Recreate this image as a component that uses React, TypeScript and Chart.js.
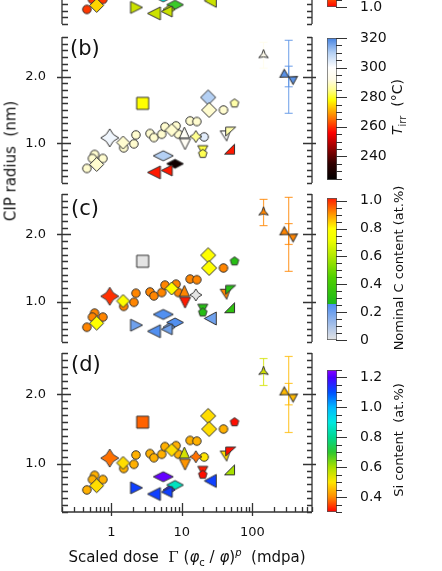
import React, { useEffect, useRef } from 'react';
import { Chart, registerables } from 'chart.js';

Chart.register(...registerables);

const FONT = "'DejaVu Sans', 'Liberation Sans', sans-serif";
Chart.defaults.font.family = FONT;

// ---------------- data: one entry per plotted sample ----------------
const markerShape = [
  'circle', 'circle', 'circle', 'circle', 'diamond', 'star4', 'circle',
  'diamond', 'circle', 'circle', 'square', 'circle', 'circle', 'circle',
  'circle', 'circle', 'circle', 'diamond', 'triUp', 'circle', 'circle',
  'triDown', 'circle', 'star4', 'triDown', 'pentagon', 'diamond', 'diamond',
  'circle', 'pentagon', 'flagA', 'flagB', 'rtri', 'star3', 'bowtie',
  'flatDiamond', 'flatDiamond', 'triLeft', 'flatDiamond', 'triLeft', 'triRight', 'triLeft',
];
const markerWidth = [
  8.5, 8.5, 8.5, 8.5, 14, 18, 8.5,
  13, 8.5, 8.5, 12, 8.5, 8.5, 8.5,
  8.5, 8.5, 8.5, 13, 10, 8.5, 8.5,
  11, 8.5, 12, 10, 9, 15, 15,
  8.5, 9, 10, 10, 10, 11, 15,
  20, 17, 13, 12, 11, 12, 12,
];
const markerHeight = [
  8.5, 8.5, 8.5, 8.5, 14, 18, 8.5,
  13, 8.5, 8.5, 12, 8.5, 8.5, 8.5,
  8.5, 8.5, 8.5, 13, 11, 8.5, 8.5,
  11, 8.5, 12, 9, 9, 15, 15,
  8.5, 9, 10, 9, 10, 11, 15,
  10, 9, 13, 8, 11, 12, 13,
];
// scaled dose (mdpa)
const scaledDose = [
  0.45, 0.58, 0.54, 0.76, 0.62, 0.95, 1.50,
  1.47, 2.09, 2.23, 2.78, 3.53, 4.02, 5.18,
  5.77, 8.27, 8.92, 7.18, 10.85, 13.1, 16.3,
  11.1, 20.7, 15.8, 19.8, 19.8, 23.6, 24.4,
  38.9, 55.8, 41.1, 49.2, 47.4, 144, 327,
  5.46, 8.0, 4.02, 6.6, 6.1, 2.28, 25.3,
];
// CIP radius (nm)
const cipRadius = [
  0.62, 0.83, 0.77, 0.77, 0.68, 1.08, 0.93,
  1.01, 0.99, 1.125, 1.60, 1.145, 1.085, 1.135,
  1.246, 1.26, 1.136, 1.196, 1.16, 1.336, 1.326,
  0.985, 1.095, 1.10, 0.895, 0.84, 1.69, 1.50,
  1.50, 1.60, 1.11, 1.175, 0.91, 2.33, 2.0,
  0.81, 0.69, 0.56, 0.62, 0.59, 0.65, 0.75,
];
// irradiation temperature (°C), panel (b)
const irradiationTemp = [
  290, 290, 290, 290, 290, 302, 290,
  290, 290, 290, 278, 290, 290, 290,
  290, 290, 290, 290, 297, 290, 290,
  296, 304, 285, 281, 282, 310, 290,
  290, 287, 299, 287, 258, 293, 318,
  310, 228, 258, null, 258, null, null,
];
// nominal C content (at.%), panel (c)
const carbonContent = [
  0.92, 0.92, 0.92, 0.92, 0.8, 1.0, 0.92,
  0.8, 0.92, 0.92, 0, 0.92, 0.92, 0.92,
  0.92, 0.92, 0.92, 0.8, 0.92, 0.92, 0.92,
  1.02, null, 0, 0.3, 0.3, 0.8, 0.8,
  0.92, 0.3, 0.92, 0.3, 0.33, 0.92, 0.92,
  0.25, 0.25, 0.25, 0.2, 0.2, 0.2, 0.2,
];
// Si content (at.%), panel (d)
const siliconContent = [
  0.44, 0.44, 0.44, 0.44, 0.49, 0.38, 0.44,
  0.49, 0.44, 0.44, 0.37, 0.44, 0.44, 0.44,
  0.44, 0.44, 0.44, 0.49, 0.55, 0.44, 0.44,
  0.41, 0.5, 0.38, 0.32, 0.31, 0.49, 0.49,
  0.44, 0.31, 0.49, 0.31, 0.6, 0.55, 0.45,
  1.22, 0.86, 1.12, 1.15, 1.12, 1.12, 1.12,
];
// colour variable of panel (a) (its scale is cut off at the top of the figure)
const panelAValue = [
  1.04, 1.04, 1.04, 1.04, 1.18, 1.1, 1.04,
  1.18, 1.04, 1.04, 1.1, 1.04, 1.04, 1.04,
  1.04, 1.04, 1.04, 1.18, 1.25, 1.04, 1.04,
  1.1, 1.04, 1.1, 1.3, 1.3, 1.18, 1.18,
  1.04, 1.3, 1.2, 1.3, 1.3, 1.25, 1.2,
  1.6, 1.39, 1.26, 1.27, 1.26, 1.26, 1.26,
];

// error bars: sample index, lower and upper radius
const errorSample = [33, 34, 34];
const errorLow = [2.13, 1.45, 1.85];
const errorHigh = [2.52, 2.55, 2.16];

// axis ticks
const xTickValues = [1, 10, 100];
const yTickValues = [1.0, 2.0];
const tempTicks = [240, 260, 280, 300, 320];
const carbonTicks = [0, 0.2, 0.4, 0.6, 0.8, 1.0];
const siliconTicks = [0.4, 0.6, 0.8, 1.0, 1.2];
const panelATicks = [1.0, 1.2, 1.4, 1.6, 1.8, 2.0];

// colour scales
const tempStops: [number, string][] = [
  [224, '#000000'], [235, '#300000'], [245, '#900000'], [256, '#ff0000'], [264, '#ff6000'],
  [271, '#ffb000'], [278, '#ffff00'], [285, '#ffff90'], [292, '#fffbe8'], [300, '#ffffff'],
  [310, '#b4d0f4'], [320, '#4482e2'],
];
const carbonStops: [number, string][] = [
  [0, '#e4e4e4'], [0.255, '#4f8ef0'], [0.2551, '#1ab81a'], [0.45, '#50d000'], [0.6, '#b0e800'],
  [0.72, '#f0ff00'], [0.8, '#ffff00'], [0.9, '#ff9a00'], [1.02, '#ff1a00'],
];
const siliconStops: [number, string][] = [
  [0.3, '#ff0000'], [0.4, '#ff8c00'], [0.5, '#ffe600'], [0.6, '#a8e000'], [0.7, '#2ec82e'],
  [0.8, '#00d890'], [0.9, '#00e8e0'], [1.0, '#00b8ff'], [1.1, '#0050ff'], [1.2, '#4a00ff'], [1.25, '#8a00ff'],
];
const panelAStops: [number, string][] = [
  [1.0, '#ff0000'], [1.1, '#ff8c00'], [1.2, '#ffe600'], [1.3, '#a8e000'], [1.4, '#2ec82e'],
  [1.5, '#00d890'], [1.6, '#00e8e0'], [1.7, '#00b8ff'], [1.8, '#0050ff'], [1.9, '#4a00ff'], [2.0, '#8a00ff'],
];

// ---------------- helpers ----------------
function hexRgb(h: string): number[] {
  return [parseInt(h.slice(1, 3), 16), parseInt(h.slice(3, 5), 16), parseInt(h.slice(5, 7), 16)];
}
function colorAt(stops: [number, string][], v: number): number[] {
  if (v <= stops[0][0]) return hexRgb(stops[0][1]);
  for (let i = 1; i < stops.length; i++) {
    if (v <= stops[i][0]) {
      const [v0, c0] = stops[i - 1];
      const [v1, c1] = stops[i];
      const t = v1 === v0 ? 1 : (v - v0) / (v1 - v0);
      const a = hexRgb(c0), b = hexRgb(c1);
      return a.map((x, k) => Math.round(x + (b[k] - x) * t));
    }
  }
  return hexRgb(stops[stops.length - 1][1]);
}
const rgb = (c: number[], a = 1) => `rgba(${c[0]},${c[1]},${c[2]},${a})`;

function makeMarker(shape: string, w: number, h: number, fill: string): HTMLCanvasElement {
  const size = Math.ceil(Math.max(w, h) * 1.3 + 4);
  const c = document.createElement('canvas');
  c.width = size;
  c.height = size;
  const ctx = c.getContext('2d') as CanvasRenderingContext2D;
  ctx.translate(size / 2, size / 2);
  const a = w / 2, b = h / 2;
  const poly = (pts: number[][]) => {
    ctx.moveTo(pts[0][0], pts[0][1]);
    for (let i = 1; i < pts.length; i++) ctx.lineTo(pts[i][0], pts[i][1]);
    ctx.closePath();
  };
  ctx.beginPath();
  switch (shape) {
    case 'circle': ctx.arc(0, 0, a, 0, Math.PI * 2); break;
    case 'square': poly([[-a, -b], [a, -b], [a, b], [-a, b]]); break;
    case 'diamond':
    case 'flatDiamond': poly([[0, -b], [a, 0], [0, b], [-a, 0]]); break;
    case 'triUp': poly([[0, -b], [a, b], [-a, b]]); break;
    case 'triDown': poly([[-a, -b], [a, -b], [0, b]]); break;
    case 'triLeft': poly([[-a, 0], [a, -b], [a, b]]); break;
    case 'triRight': poly([[a, 0], [-a, -b], [-a, b]]); break;
    case 'rtri': poly([[a, -b], [a, b], [-a, b]]); break;
    case 'flagA': poly([[-a, -b], [a, -b], [a * 0.3, b]]); break;
    case 'flagB': poly([[-a, -b], [a, -b], [-a, b]]); break;
    case 'pentagon': {
      const pts: number[][] = [];
      for (let k = 0; k < 5; k++) {
        const t = -Math.PI / 2 + (k * 2 * Math.PI) / 5;
        pts.push([a * Math.cos(t), b * Math.sin(t)]);
      }
      poly(pts);
      break;
    }
    case 'star4': {
      const tips = [[0, -b], [a, 0], [0, b], [-a, 0]];
      const k = 0.28;
      const ctrl = [[k * a, -k * b], [k * a, k * b], [-k * a, k * b], [-k * a, -k * b]];
      ctx.moveTo(tips[0][0], tips[0][1]);
      for (let i = 0; i < 4; i++) {
        const n = tips[(i + 1) % 4];
        ctx.quadraticCurveTo(ctrl[i][0], ctrl[i][1], n[0], n[1]);
      }
      ctx.closePath();
      break;
    }
    case 'star3': {
      const ang = [-90, 30, 150].map((d) => (d * Math.PI) / 180);
      ctx.moveTo(a * Math.cos(ang[0]), b * Math.sin(ang[0]));
      for (let i = 0; i < 3; i++) {
        const n = ang[(i + 1) % 3];
        const m = ang[i] + Math.PI / 3;
        ctx.quadraticCurveTo(0.2 * a * Math.cos(m), 0.2 * b * Math.sin(m), a * Math.cos(n), b * Math.sin(n));
      }
      ctx.closePath();
      break;
    }
    case 'bowtie': {
      ctx.rotate(0.5);
      poly([[0, 0], [-a, -b * 0.6], [-a, b * 0.6]]);
      poly([[0, 0], [a, -b * 0.6], [a, b * 0.6]]);
      break;
    }
    default: ctx.arc(0, 0, a, 0, Math.PI * 2);
  }
  ctx.fillStyle = fill;
  ctx.fill();
  ctx.lineWidth = 1;
  ctx.lineJoin = 'miter';
  ctx.strokeStyle = '#333333';
  ctx.stroke();
  return c;
}

// inward tick marks and side axes of a panel
const frameTicksPlugin = {
  id: 'frameTicks',
  afterDraw(chart: any, _args: any, opts: any) {
    const { ctx, chartArea } = chart;
    const { left, right, top, bottom } = chartArea;
    const xs = chart.scales.x, ys = chart.scales.y;
    ctx.save();
    ctx.strokeStyle = '#333333';
    ctx.lineWidth = 1.3;
    const L = Math.round(left), R = Math.round(right);
    ctx.beginPath();
    ctx.moveTo(L, top); ctx.lineTo(L, bottom);
    ctx.moveTo(R, top); ctx.lineTo(R, bottom);
    const k0 = Math.ceil(ys.min * 10 - 1e-6), k1 = Math.floor(ys.max * 10 + 1e-6);
    for (let k = k0; k <= k1; k++) {
      const py = Math.round(ys.getPixelForValue(k / 10)) + 0.5;
      if (k % 10 === 0) {
        ctx.moveTo(L - 5, py); ctx.lineTo(L + 9, py);
        ctx.moveTo(R + 4, py); ctx.lineTo(R - 9, py);
      } else {
        ctx.moveTo(L, py); ctx.lineTo(L + 6, py);
        ctx.moveTo(R, py); ctx.lineTo(R - 5, py);
      }
    }
    if (opts && opts.bottomAxis) {
      const B = Math.round(bottom);
      ctx.moveTo(L, B); ctx.lineTo(R, B);
      for (const d of [0.1, 1, 10, 100]) {
        for (let m = 1; m <= 9; m++) {
          const v = m * d;
          if (v < xs.min * 0.999 || v > xs.max * 1.001) continue;
          const px = Math.round(xs.getPixelForValue(v)) + 0.5;
          if (m === 1) { ctx.moveTo(px, B + 4); ctx.lineTo(px, B - 9); }
          else { ctx.moveTo(px, B); ctx.lineTo(px, B - 5); }
        }
      }
    }
    ctx.stroke();
    ctx.restore();
  },
};

// tick marks on the right of a colour bar
const cbTicksPlugin = {
  id: 'cbTicks',
  afterDraw(chart: any, _args: any, opts: any) {
    const { ctx, chartArea } = chart;
    const ys = chart.scales.y;
    const right = Math.round(chartArea.right);
    ctx.save();
    ctx.strokeStyle = '#333333';
    ctx.lineWidth = 1.2;
    ctx.beginPath();
    const n0 = Math.ceil(ys.min / opts.step - 1e-6), n1 = Math.floor(ys.max / opts.step + 1e-6);
    for (let n = n0; n <= n1; n++) {
      const v = n * opts.step;
      const py = Math.round(ys.getPixelForValue(v)) + 0.5;
      const major = opts.major.some((m: number) => Math.abs(m - v) < 1e-6);
      ctx.moveTo(right - 1, py);
      ctx.lineTo(right + (major ? 10 : 5), py);
    }
    ctx.stroke();
    ctx.restore();
  },
};

// ---------------- layout of the figure ----------------
const PAD = 20;
const CB_PAD = 28;
const PANELS = [
  { areaTop: -122, areaBottom: 24, yMin: 0.4, yMax: 2.6, showX: false, values: panelAValue, stops: panelAStops },
  { areaTop: 37, areaBottom: 183, yMin: 0.4, yMax: 2.6, showX: false, values: irradiationTemp, stops: tempStops },
  { areaTop: 194, areaBottom: 342, yMin: 0.4, yMax: 2.6, showX: false, values: carbonContent, stops: carbonStops },
  { areaTop: 353, areaBottom: 512, yMin: 0.3, yMax: 2.6, showX: true, values: siliconContent, stops: siliconStops },
];
const X_AXIS_H = 30;

const COLORBARS = [
  { areaTop: -135, areaBottom: 7, min: 1.0, max: 2.0, ticks: panelATicks, step: 0.05, stops: panelAStops, fmt: (v: number) => v.toFixed(1) },
  { areaTop: 38, areaBottom: 180, min: 224, max: 320, ticks: tempTicks, step: 5, stops: tempStops, fmt: (v: number) => String(v) },
  { areaTop: 198, areaBottom: 340, min: 0, max: 1.02, ticks: carbonTicks, step: 0.05, stops: carbonStops, fmt: (v: number) => (v === 0 ? '0' : v.toFixed(1)) },
  { areaTop: 370, areaBottom: 512, min: 0.3, max: 1.25, ticks: siliconTicks, step: 0.05, stops: siliconStops, fmt: (v: number) => v.toFixed(1) },
];

const panelCanvasHeight = (p: any) => (p.areaBottom - p.areaTop) + PAD + (p.showX ? X_AXIS_H : PAD);

function buildPanelConfig(p: any): any {
  const pts: any[] = [];
  const styles: any[] = [];
  for (let i = 0; i < scaledDose.length; i++) {
    const v = p.values[i];
    if (v === null || v === undefined) continue;
    pts.push({ x: scaledDose[i], y: cipRadius[i] });
    styles.push(makeMarker(markerShape[i], markerWidth[i], markerHeight[i], rgb(colorAt(p.stops, v))));
  }
  const datasets: any[] = [
    { type: 'scatter', data: pts, pointStyle: styles, pointRadius: 8, order: 0, clip: false },
  ];
  errorSample.forEach((idx, k) => {
    const v = p.values[idx];
    if (v === null || v === undefined) return;
    const col = rgb(colorAt(p.stops, v), 0.75);
    datasets.push({
      type: 'line',
      data: [{ x: scaledDose[idx], y: errorLow[k] }, { x: scaledDose[idx], y: errorHigh[k] }],
      borderColor: col, borderWidth: 1.2, fill: false,
      pointStyle: 'line', pointRadius: 4, pointBorderColor: col, pointBorderWidth: 1.2, pointBackgroundColor: col,
      order: 1, clip: false,
    });
  });
  return {
    type: 'scatter',
    data: { datasets },
    plugins: [frameTicksPlugin],
    options: {
      animation: false,
      responsive: false,
      events: [],
      layout: { padding: { left: 0, right: 130, top: PAD, bottom: p.showX ? 0 : PAD } },
      plugins: { legend: { display: false }, tooltip: { enabled: false }, frameTicks: { bottomAxis: p.showX } },
      scales: {
        x: {
          type: 'logarithmic', min: 0.2, max: 700, display: p.showX,
          grid: { display: false }, border: { display: false },
          ticks: { font: { family: FONT, size: 13 }, color: '#111', padding: 5, autoSkip: false, maxRotation: 0, callback: (v: any) => String(v) },
          afterBuildTicks: (s: any) => { s.ticks = xTickValues.map((v) => ({ value: v })); },
          afterFit: (s: any) => { if (p.showX) s.height = X_AXIS_H; },
        },
        y: {
          type: 'linear', min: p.yMin, max: p.yMax,
          grid: { display: false }, border: { display: false },
          ticks: { font: { family: FONT, size: 13 }, color: '#111', padding: 8, callback: (v: any) => Number(v).toFixed(1) },
          afterBuildTicks: (s: any) => { s.ticks = yTickValues.map((v) => ({ value: v })); },
          afterFit: (s: any) => { s.width = 62; },
        },
      },
    },
  };
}

function buildColorbarConfig(cb: any): any {
  return {
    type: 'bar',
    data: {
      labels: [''],
      datasets: [{
        data: [[cb.min, cb.max]],
        backgroundColor: (ctx: any) => {
          const chart = ctx.chart;
          if (!chart.chartArea) return 'rgba(0,0,0,0)';
          const ys = chart.scales.y;
          const y0 = ys.getPixelForValue(cb.min), y1 = ys.getPixelForValue(cb.max);
          const g = chart.ctx.createLinearGradient(0, y0, 0, y1);
          cb.stops.forEach(([v, c]: [number, string]) => {
            const t = Math.min(1, Math.max(0, (v - cb.min) / (cb.max - cb.min)));
            g.addColorStop(t, c);
          });
          return g;
        },
        borderColor: '#555555', borderWidth: 1, borderSkipped: false,
        barPercentage: 1, categoryPercentage: 1,
      }],
    },
    plugins: [cbTicksPlugin],
    options: {
      animation: false,
      responsive: false,
      events: [],
      layout: { padding: { left: 1, right: 0, top: CB_PAD, bottom: CB_PAD } },
      plugins: { legend: { display: false }, tooltip: { enabled: false }, cbTicks: { step: cb.step, major: cb.ticks } },
      scales: {
        x: { display: false },
        y: {
          position: 'right', min: cb.min, max: cb.max,
          grid: { display: false }, border: { display: false },
          ticks: { font: { family: FONT, size: 14 }, color: '#111', padding: 15, callback: (v: any) => cb.fmt(Number(v)) },
          afterBuildTicks: (s: any) => { s.ticks = cb.ticks.map((v: number) => ({ value: v })); },
          afterFit: (s: any) => { s.width = 60; },
        },
      },
    },
  };
}

const rotated = (cx: number, cy: number, size: number): React.CSSProperties => ({
  position: 'absolute', left: cx, top: cy, fontSize: size, lineHeight: 1, whiteSpace: 'pre',
  transform: 'translate(-50%, -50%) rotate(-90deg)',
});
const panelLabel = (x: number, cy: number): React.CSSProperties => ({
  position: 'absolute', left: x, top: cy, fontSize: 21, lineHeight: 1, transform: 'translateY(-50%)',
});

export default function App() {
  const panelRefs = useRef<(HTMLCanvasElement | null)[]>([]);
  const barRefs = useRef<(HTMLCanvasElement | null)[]>([]);

  useEffect(() => {
    const charts: Chart[] = [];
    PANELS.forEach((p, i) => {
      const cv = panelRefs.current[i];
      if (cv) charts.push(new Chart(cv, buildPanelConfig(p)));
    });
    COLORBARS.forEach((cb, i) => {
      const cv = barRefs.current[i];
      if (cv) charts.push(new Chart(cv, buildColorbarConfig(cb)));
    });
    return () => charts.forEach((c) => c.destroy());
  }, []);

  return (
    <div style={{ position: 'absolute', left: 0, top: 0, width: 442, height: 571, overflow: 'hidden', background: '#fff', fontFamily: FONT, color: '#111' }}>
      {PANELS.map((p, i) => {
        const h = panelCanvasHeight(p);
        return (
          <canvas key={'p' + i} ref={(el) => { panelRefs.current[i] = el; }} width={442} height={h}
            style={{ position: 'absolute', left: 0, top: p.areaTop - PAD, width: 442, height: h }} />
        );
      })}
      {COLORBARS.map((cb, i) => {
        const h = cb.areaBottom - cb.areaTop + 2 * CB_PAD;
        return (
          <canvas key={'c' + i} ref={(el) => { barRefs.current[i] = el; }} width={71} height={h}
            style={{ position: 'absolute', left: 326, top: cb.areaTop - CB_PAD, width: 71, height: h }} />
        );
      })}
      <div style={panelLabel(70, 48)}>(b)</div>
      <div style={panelLabel(71, 208)}>(c)</div>
      <div style={panelLabel(71, 364)}>(d)</div>
      <div style={rotated(11, 161, 15)}>CIP radius  (nm)</div>
      <div style={rotated(399, 107, 14)}>
        <i>T</i><sub style={{ fontSize: 10 }}>irr</sub>{'  (°C)'}
      </div>
      <div style={rotated(398, 268, 13)}>Nominal C content (at.%)</div>
      <div style={rotated(398, 440, 13)}>Si content  (at.%)</div>
      <div style={{ position: 'absolute', left: 187, top: 558, fontSize: 15, lineHeight: 1, whiteSpace: 'pre', transform: 'translate(-50%, -50%)' }}>
        {'Scaled dose  '}
        <span style={{ fontFamily: "'DejaVu Serif', serif" }}>Γ</span>
        {' ('}<i>φ</i><sub style={{ fontSize: 10 }}>c</sub>{' / '}<i>φ</i>{')'}
        <sup style={{ fontSize: 10 }}><i>p</i></sup>
        {'  (mdpa)'}
      </div>
    </div>
  );
}
